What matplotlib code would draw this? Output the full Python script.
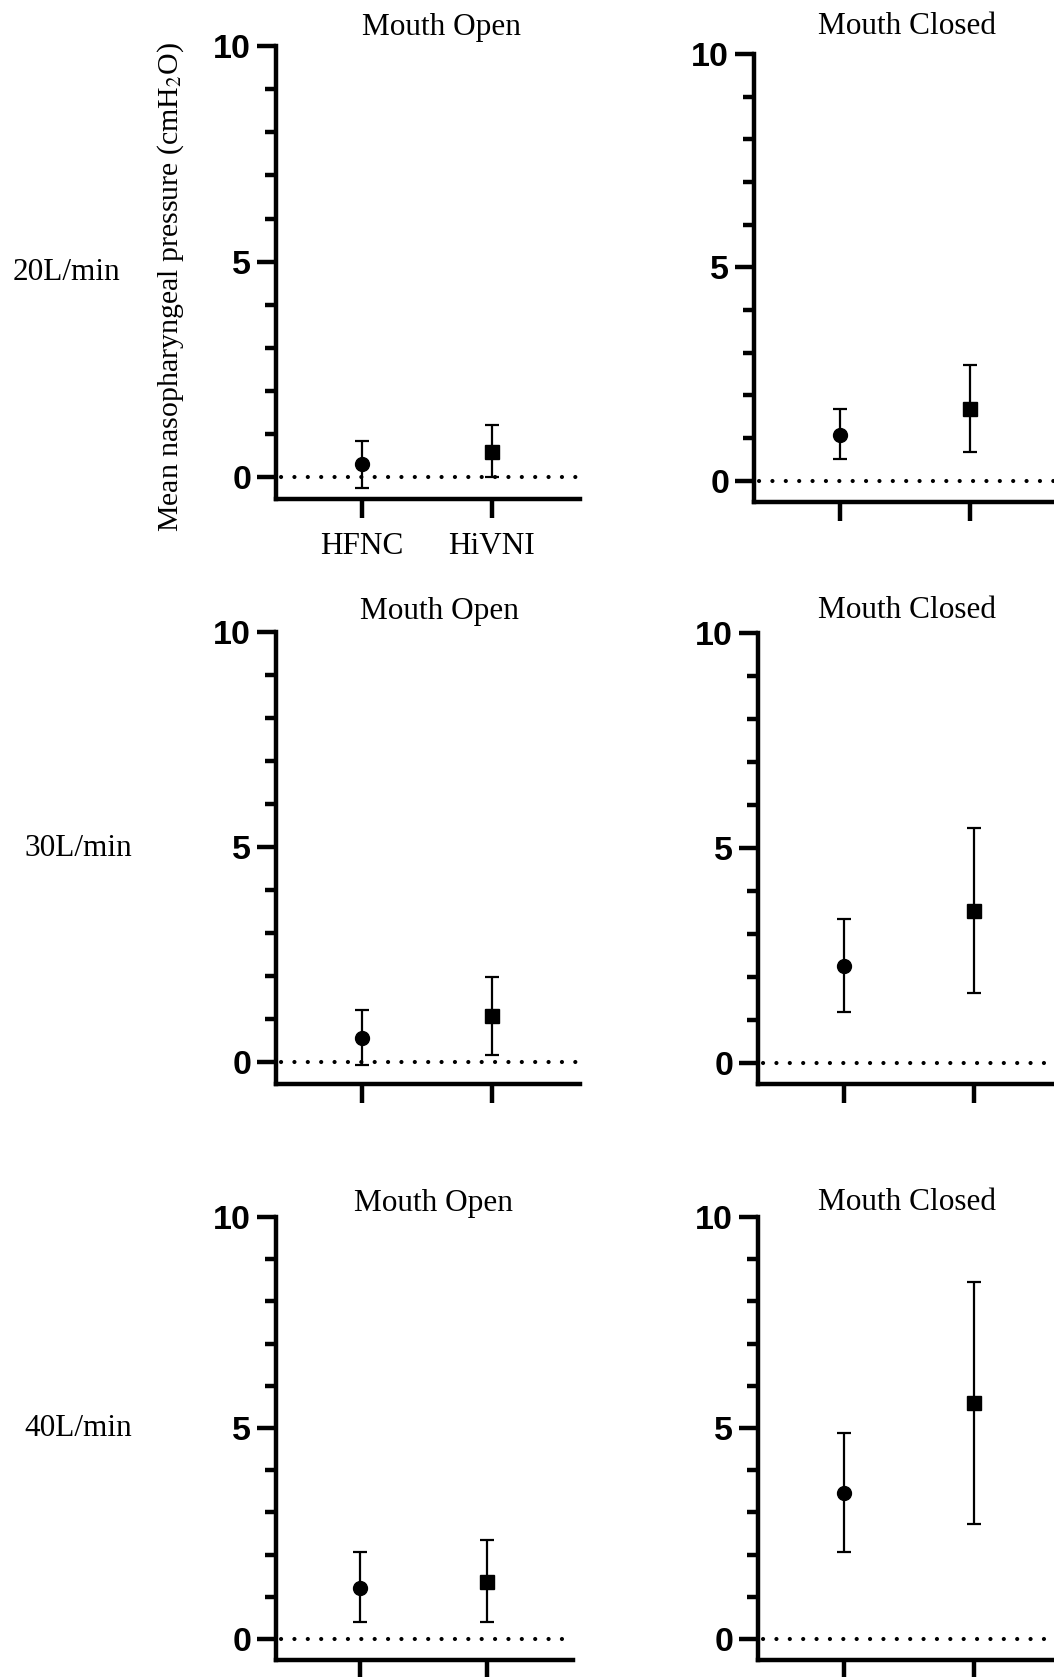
import numpy as np
import matplotlib.pyplot as plt

plt.rcParams['font.family'] = 'Liberation Serif'
plt.rcParams['mathtext.fontset'] = 'stix'

# data (cmH2O): mean, lower and upper end of the error bar
devices = ['HFNC', 'HiVNI']
flows = ['20L/min', '30L/min', '40L/min']
conditions = ['Mouth Open', 'Mouth Closed']

open_mean = [[0.30, 0.60], [0.58, 1.08], [1.21, 1.36]]
open_lo = [[-0.25, 0.00], [-0.06, 0.18], [0.39, 0.40]]
open_hi = [[0.84, 1.21], [1.23, 1.98], [2.06, 2.34]]

closed_mean = [[1.07, 1.69], [2.25, 3.53], [3.46, 5.60]]
closed_lo = [[0.50, 0.67], [1.18, 1.61], [2.05, 2.73]]
closed_hi = [[1.69, 2.70], [3.34, 5.47], [4.89, 8.46]]

W, H = 1054, 1677
fig = plt.figure(figsize=(W / 100, H / 100), dpi=100)

# panel boxes in pixels: left, right, top (y=10), bottom (x axis)
boxes = [[(276, 580, 46, 499), (754, 1058, 54, 502)],
         [(276, 580, 632, 1084), (758, 1062, 633, 1084)],
         [(276, 573, 1217, 1660), (758, 1062, 1217, 1660)]]
title_pos = [[(442, 28), (907, 27)],
             [(440, 612), (907, 611)],
             [(433, 1204), (907, 1203)]]
row_pos = [(66, 273), (78, 849), (78, 1429)]

for r in range(3):
    for c in range(2):
        l, rr, t, b = boxes[r][c]
        ax = fig.add_axes([l / W, 1 - b / H, (rr - l) / W, (b - t) / H])
        if c == 0:
            m, lo, hi = open_mean[r], open_lo[r], open_hi[r]
        else:
            m, lo, hi = closed_mean[r], closed_lo[r], closed_hi[r]
        x = np.arange(len(devices))
        ax.axhline(0, color='k', linewidth=3, linestyle=(2, (0.01, 3.2)),
                   dash_capstyle='round', zorder=1)
        for i, mk, ms in zip(x, ['o', 's'], [10, 9.5]):
            err = [[m[i] - lo[i]], [hi[i] - m[i]]]
            ax.errorbar([i], [m[i]], yerr=err, fmt=mk, color='k', markersize=ms,
                        elinewidth=1.6, capsize=5, capthick=1.6, zorder=3)
        ax.set_xlim(-0.66, 1.68)
        ax.set_ylim(-0.5, 10)
        ax.spines['top'].set_visible(False)
        ax.spines['right'].set_visible(False)
        ax.spines['left'].set_linewidth(3.2)
        ax.spines['bottom'].set_linewidth(3.2)
        ax.spines['left'].set_bounds(-0.5, 10)
        ax.set_yticks([0, 5, 10])
        ax.set_yticks(np.arange(0, 11, 1), minor=True)
        ax.set_yticklabels(['0', '5', '10'], fontfamily='Liberation Sans',
                           fontweight='bold', fontsize=24.5)
        ax.tick_params(axis='y', which='major', length=14, width=3.2, pad=4)
        ax.tick_params(axis='y', which='minor', length=8, width=3.2)
        ax.set_xticks(x)
        ax.tick_params(axis='x', length=14, width=3.2, pad=10)
        if r == 0 and c == 0:
            ax.set_xticklabels(devices, fontsize=22.5)
        else:
            ax.set_xticklabels([])
        ax.patch.set_alpha(0)
        tx, ty = title_pos[r][c]
        fig.text(tx / W, 1 - ty / H, conditions[c], fontsize=22.5,
                 ha='center', va='center')
    fx, fy = row_pos[r]
    fig.text(fx / W, 1 - fy / H, flows[r], fontsize=22.5, ha='center', va='center')

fig.text(171 / W, 1 - 287 / H, r'Mean nasopharyngeal pressure (cmH$_2$O)',
         fontsize=21.5, rotation=90, ha='center', va='center')

fig.savefig('out.png', dpi=100)
